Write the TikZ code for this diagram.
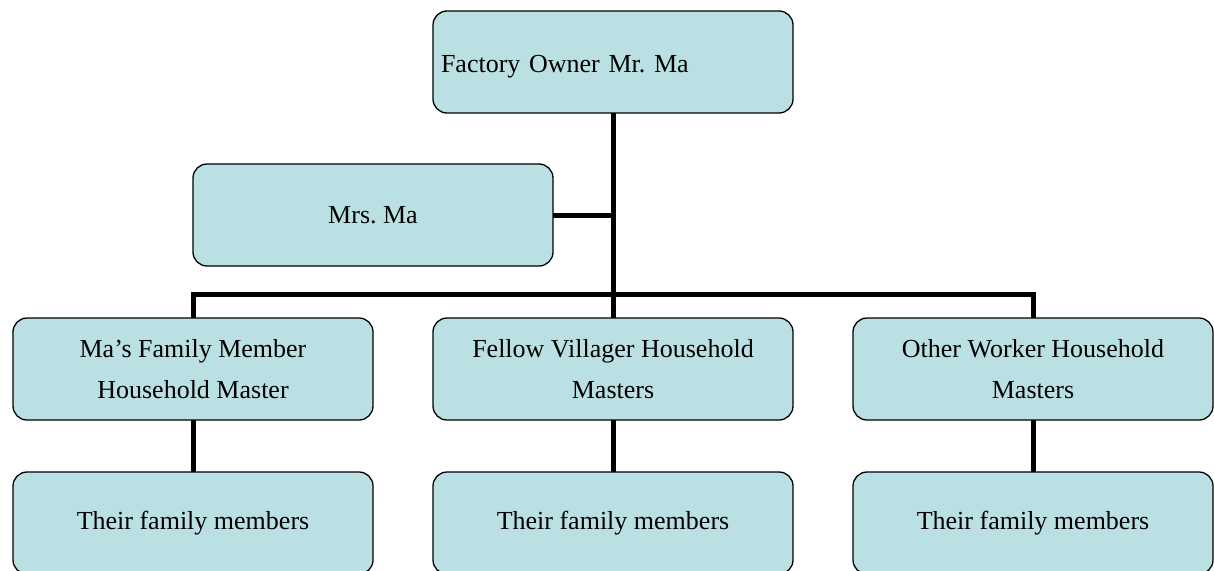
\documentclass[tikz,border=0pt]{standalone}
\usepackage{fontspec}
\setmainfont{Liberation Serif}
\frenchspacing
\definecolor{boxfill}{RGB}{187,224,227}
\begin{document}
\begin{tikzpicture}[x=1pt,y=-1pt,
  orgbox/.style={draw=black,line width=1.3pt,fill=boxfill,rounded corners=14pt,
    minimum width=360pt,minimum height=102pt,inner sep=0pt,outer sep=0pt,
    font=\fontsize{26}{41}\selectfont,align=center},
  link/.style={line width=5pt}]
\useasboundingbox (0,0) rectangle (1214,570);
\clip (0,0) rectangle (1214,570);
% top: owner
\node[orgbox,text width=344pt,align=left,text height=26pt,text depth=6pt] (owner) at (613,62) {Factory Owner Mr. Ma};
\node[orgbox] (wife) at (373,215) {Mrs. Ma};
% household masters
\node[orgbox] (m1) at (193,369) {Ma’s Family Member\\Household Master};
\node[orgbox] (m2) at (613,369) {Fellow Villager Household\\Masters};
\node[orgbox] (m3) at (1033,369) {Other Worker Household\\Masters};
% family members
\node[orgbox] (f1) at (193,523) {Their family members};
\node[orgbox] (f2) at (613,523) {Their family members};
\node[orgbox] (f3) at (1033,523) {Their family members};
% junction points
\coordinate (bar) at (613,294);
\coordinate (wj) at (613,215);
% connectors
\draw[link] (owner.south) -- (m2.north);
\draw[link] (wife.east) -- (wj);
\draw[link] (m1.north) |- (bar) -| (m3.north);
\draw[link] (m1.south) -- (f1.north);
\draw[link] (m2.south) -- (f2.north);
\draw[link] (m3.south) -- (f3.north);
\end{tikzpicture}
\end{document}
